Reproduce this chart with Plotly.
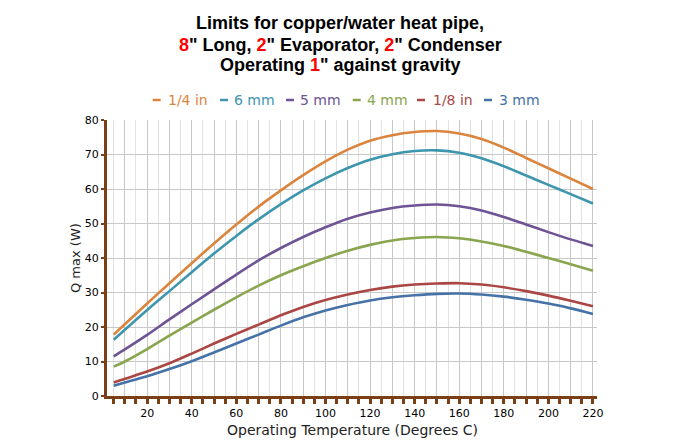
import plotly.graph_objects as go

temps = [5, 10, 20, 30, 40, 50, 60, 70, 80, 90, 100, 110, 120, 130, 140, 150, 160, 170, 180, 190, 200, 210, 220]
q_quarter_in = [17.8, 20.8, 26.8, 32.7, 38.5, 44.2, 49.7, 54.9, 59.6, 64.0, 68.0, 71.4, 74.0, 75.6, 76.5, 76.8, 76.1, 74.5, 72.0, 69.0, 66.0, 63.0, 60.0]
q_6mm = [16.3, 19.2, 24.9, 30.4, 35.9, 41.3, 46.4, 51.2, 55.6, 59.6, 63.1, 66.1, 68.5, 70.1, 71.0, 71.2, 70.5, 68.9, 66.6, 63.9, 61.2, 58.5, 55.8]
q_5mm = [11.5, 13.5, 17.7, 22.2, 26.6, 30.9, 35.2, 39.3, 42.9, 46.1, 48.9, 51.4, 53.2, 54.5, 55.2, 55.5, 55.0, 53.8, 51.9, 49.7, 47.5, 45.4, 43.5]
q_4mm = [8.5, 10.0, 13.6, 17.5, 21.3, 25.0, 28.6, 32.0, 35.0, 37.6, 40.0, 42.1, 43.8, 45.1, 45.8, 46.1, 45.7, 44.8, 43.5, 41.8, 40.0, 38.2, 36.3]
q_eighth_in = [3.9, 5.0, 7.1, 9.5, 12.3, 15.2, 18.0, 20.7, 23.4, 25.8, 27.8, 29.4, 30.7, 31.7, 32.3, 32.6, 32.7, 32.3, 31.5, 30.4, 29.1, 27.6, 26.0]
q_3mm = [3.0, 3.9, 5.7, 7.8, 10.1, 12.6, 15.2, 17.8, 20.4, 22.8, 24.8, 26.4, 27.7, 28.6, 29.2, 29.6, 29.7, 29.4, 28.8, 27.9, 26.8, 25.4, 23.8]

series_names = ["1/4 in", "6 mm", "5 mm", "4 mm", "1/8 in", "3 mm"]
series_values = [q_quarter_in, q_6mm, q_5mm, q_4mm, q_eighth_in, q_3mm]
series_colors = ["#DB843D", "#3D96AE", "#6E5494", "#89A54E", "#AA4643", "#4572A7"]

x_tickvals = list(range(0, 221, 10))
x_ticktext = ["" if (v % 20 or v == 0) else str(v) for v in x_tickvals]
y_tickvals = list(range(0, 81, 10))

title_lines = [
    "<b>Limits for copper/water heat pipe,</b>",
    "<b><span style='color:red'>8</span>\" Long, <span style='color:red'>2</span>\" Evaporator, "
    "<span style='color:red'>2</span>\" Condenser</b>",
    "<b>Operating <span style='color:red'>1</span>\" against gravity</b>",
]

W, H = 679, 440
ML, MR, MT, MB = 107, 82, 120, 44
PW, PH = W - ML - MR, H - MT - MB
BROWN = "#7A3F14"


def px_x(p):
    return (p - ML) / PW


def px_y(p):
    return (H - MB - p) / PH


fig = go.Figure()
for name, vals, col in zip(series_names, series_values, series_colors):
    fig.add_trace(go.Scatter(x=temps, y=vals, name=name, mode="lines",
                             line=dict(color=col, width=2.6, shape="spline", smoothing=0.8)))

fig.update_layout(
    width=W, height=H,
    margin=dict(l=ML, r=MR, t=MT, b=MB),
    paper_bgcolor="white", plot_bgcolor="white",
    showlegend=False,
    font=dict(family="DejaVu Sans, Verdana, sans-serif", color="#000"),
)

fig.update_xaxes(
    range=[2, 221.8],
    tickvals=x_tickvals, ticktext=x_ticktext,
    showgrid=True, gridcolor="#C8C8C8", gridwidth=1,
    ticks="outside", ticklen=5, tickwidth=3, tickcolor=BROWN,
    minor=dict(dtick=5, tick0=0, ticks="outside", ticklen=5, tickwidth=3, tickcolor=BROWN,
               showgrid=True, gridcolor="#E2E2E2", gridwidth=1),
    showline=True, linecolor=BROWN, linewidth=3,
    tickfont=dict(size=11, color="#000"),
    zeroline=False,
)
fig.update_yaxes(
    range=[0, 80],
    tickvals=y_tickvals,
    showgrid=True, gridcolor="#C8C8C8", gridwidth=1,
    ticks="outside", ticklen=3, tickwidth=2, tickcolor=BROWN,
    showline=True, linecolor=BROWN, linewidth=3,
    tickfont=dict(size=11, color="#000"),
    zeroline=False,
)

annotations = []
for line, cy in zip(title_lines, [23.5, 44.5, 65.5]):
    annotations.append(dict(text=line, xref="paper", yref="paper",
                            x=px_x(340), y=px_y(cy), xanchor="center", yanchor="middle",
                            showarrow=False, align="center",
                            font=dict(family="Liberation Sans, Arial, sans-serif", size=18, color="#000")))

legend_dash_px = [152.7, 220, 286, 352.7, 417, 484]
legend_text_px = [166.5, 233, 299, 366, 431.5, 497.5]
shapes = []
for name, col, dx, tx in zip(series_names, series_colors, legend_dash_px, legend_text_px):
    shapes.append(dict(type="line", xref="paper", yref="paper",
                       x0=px_x(dx), x1=px_x(dx + 8), y0=px_y(100), y1=px_y(100),
                       line=dict(color=col, width=2.5)))
    annotations.append(dict(text=name, xref="paper", yref="paper",
                            x=px_x(tx), y=px_y(100), xanchor="left", yanchor="middle",
                            showarrow=False, xshift=-1,
                            font=dict(size=14, color=col)))

annotations.append(dict(text="Operating Temperature (Degrees C)", xref="paper", yref="paper",
                        x=px_x(352), y=px_y(430), xanchor="center", yanchor="middle",
                        showarrow=False, font=dict(size=14, color="#222")))
annotations.append(dict(text="Q max (W)", xref="paper", yref="paper",
                        x=px_x(75), y=px_y(258), xanchor="center", yanchor="middle",
                        showarrow=False, textangle=-90, font=dict(size=13, color="#222")))

fig.update_layout(annotations=annotations, shapes=shapes)
fig.write_html("out.html", config={"displayModeBar": False},
               post_script="document.body.style.margin='0';document.body.style.overflow='hidden';")
